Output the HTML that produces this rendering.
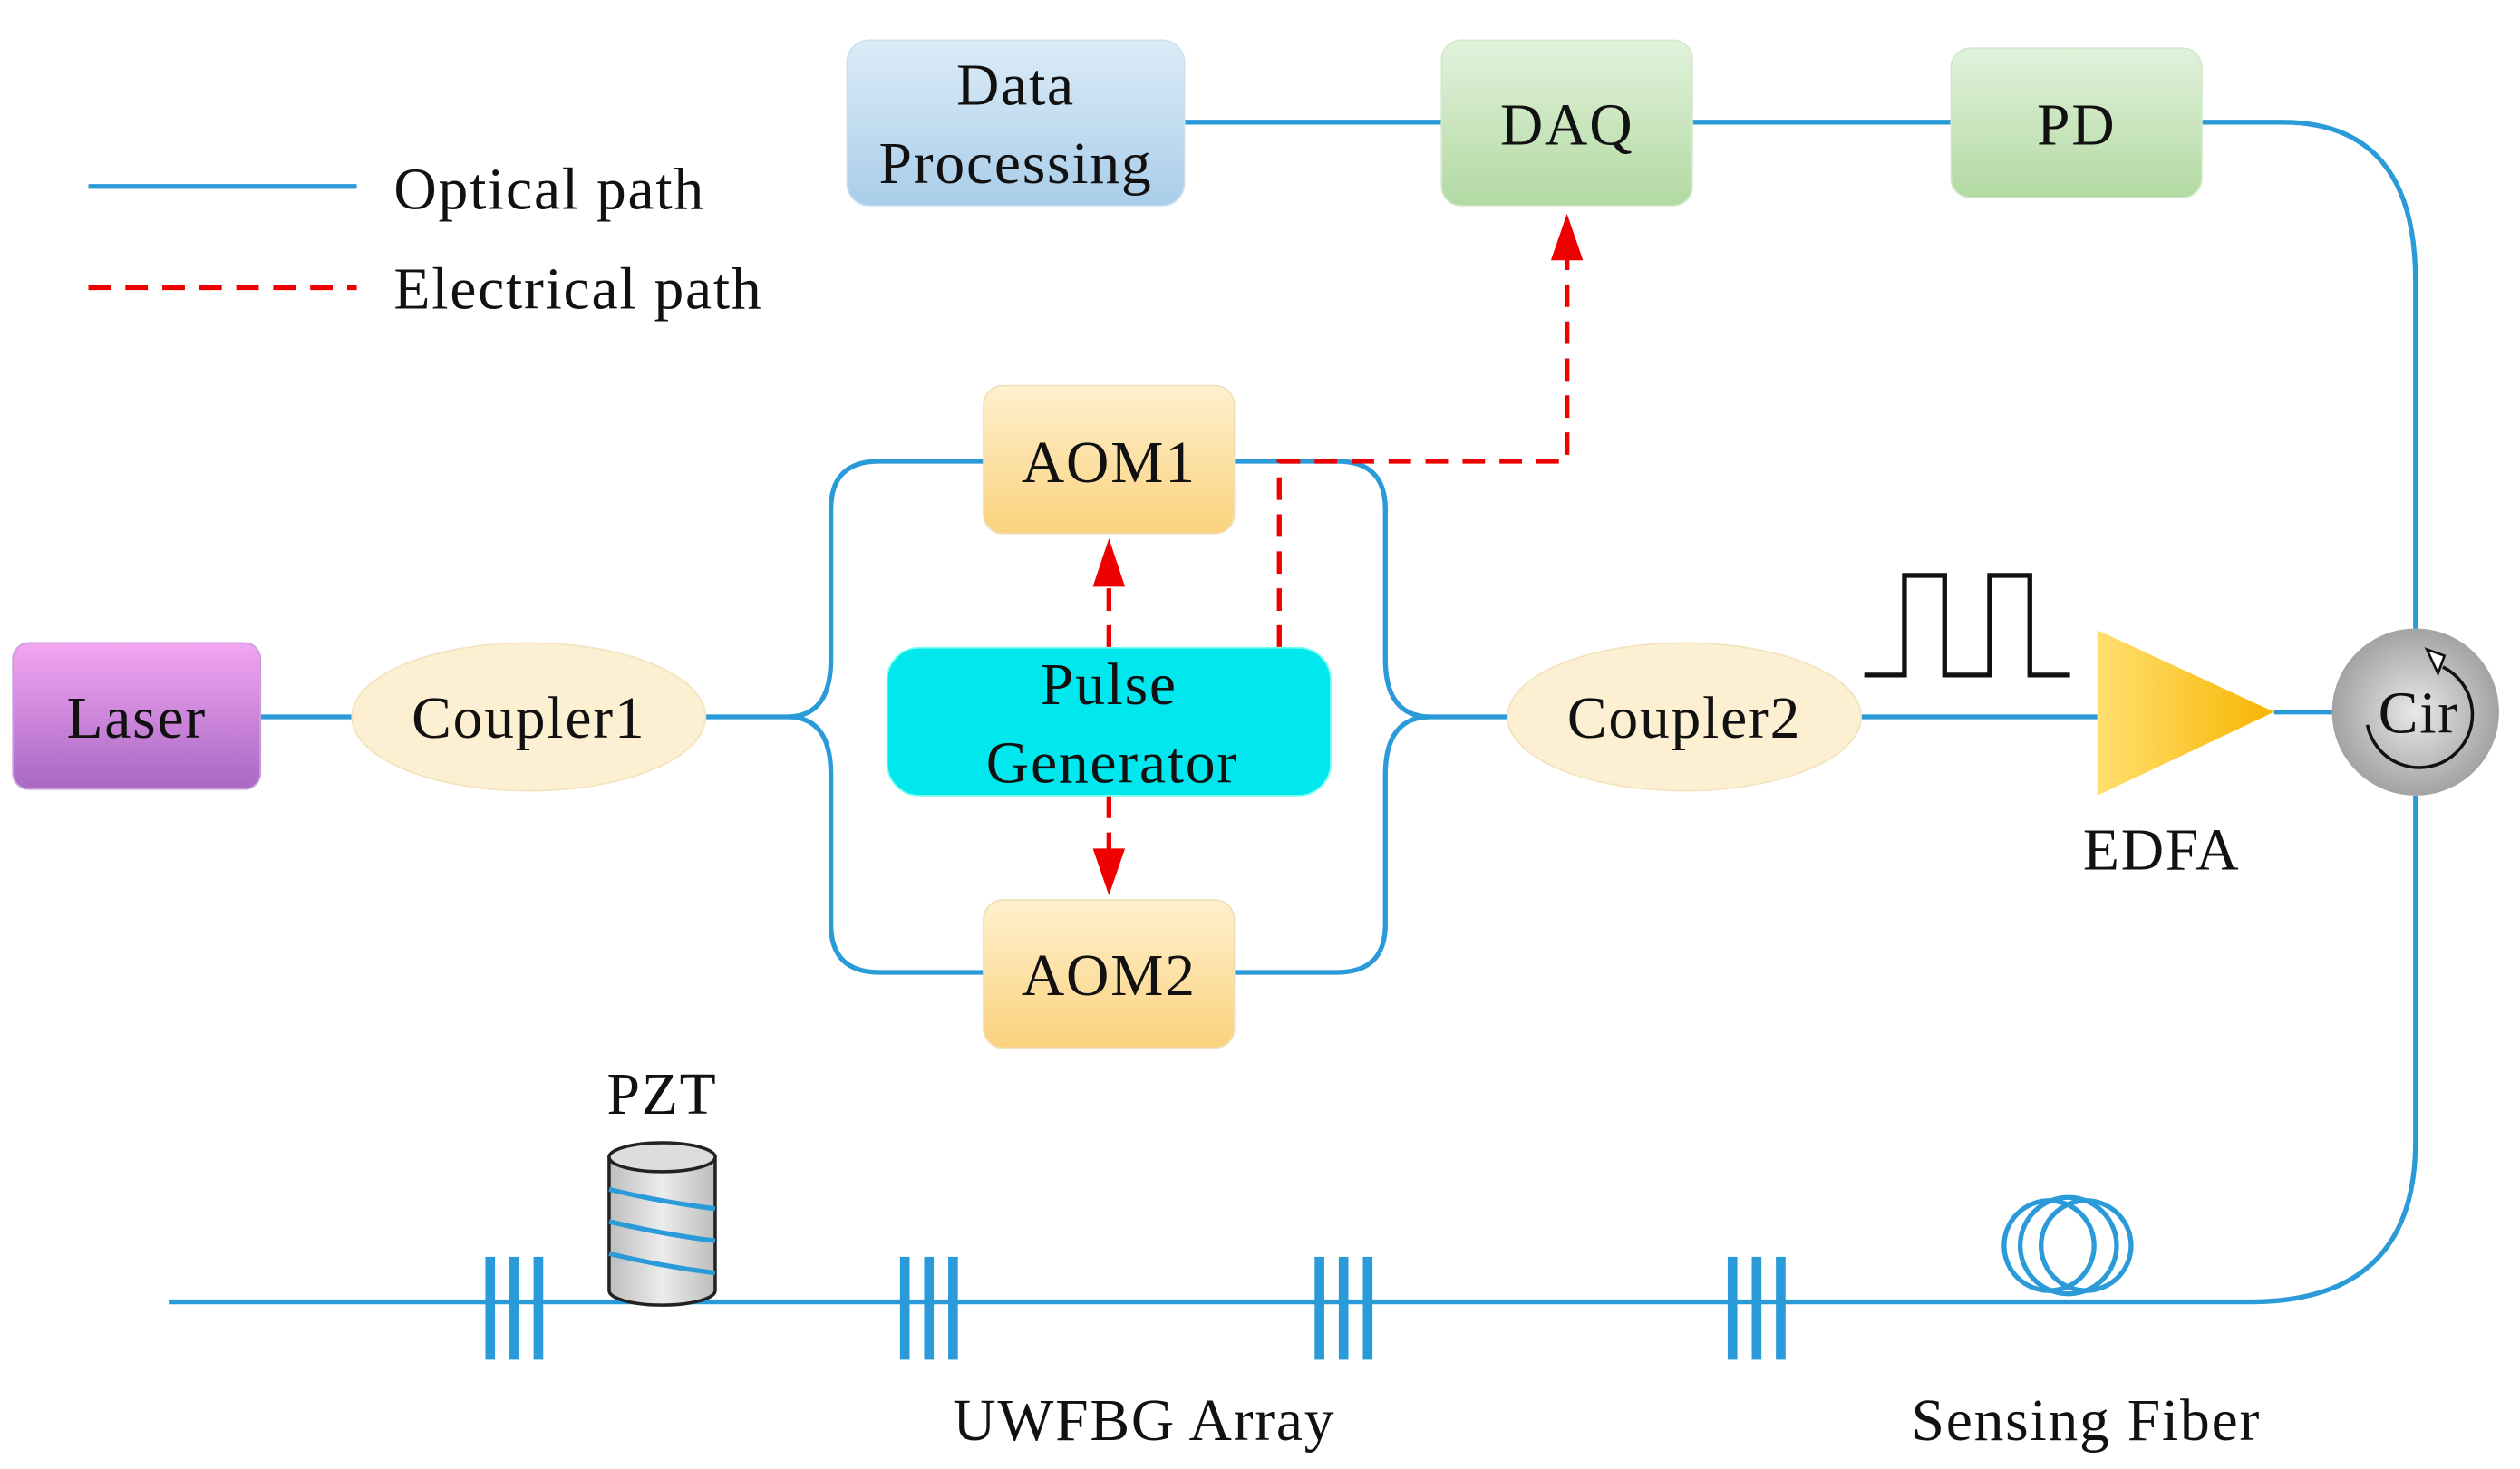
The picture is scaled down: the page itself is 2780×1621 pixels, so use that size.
<!DOCTYPE html>
<html><head><meta charset="utf-8"><style>html,body{margin:0;padding:0;background:#fff}svg{display:block}text{font-family:"Liberation Serif",serif;letter-spacing:1px}</style></head>
<body>
<svg width="2780" height="1621" viewBox="0 0 1568 914" preserveAspectRatio="none" xmlns="http://www.w3.org/2000/svg" font-size="37" fill="#111">
<defs>
<linearGradient id="gb" x1="0" y1="0" x2="0" y2="1"><stop offset="0" stop-color="#dcecf8"/><stop offset="1" stop-color="#a9cde9"/></linearGradient>
<linearGradient id="gg" x1="0" y1="0" x2="0" y2="1"><stop offset="0" stop-color="#e2f2dc"/><stop offset="1" stop-color="#b2d9a2"/></linearGradient>
<linearGradient id="go" x1="0" y1="0" x2="0" y2="1"><stop offset="0" stop-color="#fff0cf"/><stop offset="1" stop-color="#fad27c"/></linearGradient>
<linearGradient id="gp" x1="0" y1="0" x2="0" y2="1"><stop offset="0" stop-color="#f2a6f2"/><stop offset="1" stop-color="#a868c4"/></linearGradient>
<linearGradient id="gy" x1="0" y1="0" x2="1" y2="0"><stop offset="0" stop-color="#ffe070"/><stop offset="1" stop-color="#f8b400"/></linearGradient>
<radialGradient id="gc" cx="0.5" cy="0.5" r="0.55"><stop offset="0" stop-color="#e8e8e8"/><stop offset="1" stop-color="#9c9c9c"/></radialGradient>
<linearGradient id="gz" x1="0" y1="0" x2="1" y2="0"><stop offset="0" stop-color="#bdbdbd"/><stop offset="0.5" stop-color="#ececec"/><stop offset="1" stop-color="#bdbdbd"/></linearGradient>
</defs>
<g stroke="#2a9ad8" stroke-width="3" fill="none">
<line x1="55" y1="116" x2="222" y2="116"/>
<line x1="737" y1="76" x2="897" y2="76"/>
<line x1="1053" y1="76" x2="1214" y2="76"/>
<path d="M1370 76 H1420 Q1503 76 1503 175 V395"/>
<path d="M1503 495 V710 Q1503 810 1400 810 H105"/>
<line x1="162" y1="446" x2="219" y2="446"/>
<path d="M439 446 H490 Q517 446 517 410 V317 Q517 287 547 287 H612"/>
<path d="M490 446 Q517 446 517 482 V575 Q517 605 547 605 H612"/>
<path d="M768 287 H832 Q862 287 862 317 V410 Q862 446 890 446 H938"/>
<path d="M768 605 H832 Q862 605 862 575 V482 Q862 446 890 446"/>
<line x1="1158" y1="446" x2="1305" y2="446"/>
<line x1="1415" y1="443" x2="1452" y2="443"/>
<circle cx="1275" cy="775" r="28"/><circle cx="1287" cy="775" r="30"/><circle cx="1298" cy="775" r="28"/>
</g>
<g stroke="#e00" stroke-width="3" fill="none" stroke-dasharray="14,9">
<line x1="55" y1="179" x2="222" y2="179"/>
<line x1="690" y1="403" x2="690" y2="365"/>
<line x1="690" y1="495" x2="690" y2="530"/>
<path d="M796 403 V287 H975 V160"/>
</g>
<g fill="#e00">
<polygon points="690,335 680,365 700,365"/>
<polygon points="690,557 680,528 700,528"/>
<polygon points="975,133 965,162 985,162"/>
</g>
<text x="245" y="130">Optical path</text>
<text x="245" y="192">Electrical path</text>
<rect x="527" y="25" width="210" height="103" rx="14" fill="url(#gb)" stroke="#cfe0ee"/>
<text x="632" y="65" text-anchor="middle">Data</text>
<text x="632" y="114" text-anchor="middle">Processing</text>
<rect x="897" y="25" width="156" height="103" rx="12" fill="url(#gg)" stroke="#d4e8cc"/>
<text x="975" y="90" text-anchor="middle">DAQ</text>
<rect x="1214" y="30" width="156" height="93" rx="12" fill="url(#gg)" stroke="#d4e8cc"/>
<text x="1292" y="90" text-anchor="middle">PD</text>
<rect x="612" y="240" width="156" height="92" rx="12" fill="url(#go)" stroke="#f0e0b8"/>
<text x="690" y="300" text-anchor="middle">AOM1</text>
<rect x="612" y="560" width="156" height="92" rx="12" fill="url(#go)" stroke="#f0e0b8"/>
<text x="690" y="619" text-anchor="middle">AOM2</text>
<rect x="552" y="403" width="276" height="92" rx="20" fill="#00e8ee" stroke="#7fe"/>
<text x="690" y="438" text-anchor="middle">Pulse</text>
<text x="692" y="487" text-anchor="middle">Generator</text>
<rect x="8" y="400" width="154" height="91" rx="10" fill="url(#gp)" stroke="#c9a0d8"/>
<text x="85" y="459" text-anchor="middle">Laser</text>
<ellipse cx="329" cy="446" rx="110" ry="46" fill="#fdf0d2" stroke="#f3e3c0"/>
<text x="329" y="459" text-anchor="middle">Coupler1</text>
<ellipse cx="1048" cy="446" rx="110" ry="46" fill="#fdf0d2" stroke="#f3e3c0"/>
<text x="1048" y="459" text-anchor="middle">Coupler2</text>
<polyline points="1160,420 1185,420 1185,358 1210,358 1210,420 1238,420 1238,358 1263,358 1263,420 1288,420" fill="none" stroke="#111" stroke-width="3"/>
<polygon points="1305,392 1305,495 1415,443" fill="url(#gy)"/>
<text x="1345" y="541" text-anchor="middle">EDFA</text>
<circle cx="1503" cy="443" r="52" fill="url(#gc)"/>
<path d="M1473 451 A33 33 0 1 0 1520 415" fill="none" stroke="#111" stroke-width="2"/>
<polygon points="1510,404 1521,408 1517,419" fill="#fff" stroke="#111" stroke-width="1.5"/>
<text x="1505" y="456" text-anchor="middle">Cir</text>
<g fill="#2a9ad8">
<rect x="302" y="782" width="6" height="64"/><rect x="317" y="782" width="6" height="64"/><rect x="332" y="782" width="6" height="64"/>
<rect x="560" y="782" width="6" height="64"/><rect x="575" y="782" width="6" height="64"/><rect x="590" y="782" width="6" height="64"/>
<rect x="818" y="782" width="6" height="64"/><rect x="833" y="782" width="6" height="64"/><rect x="848" y="782" width="6" height="64"/>
<rect x="1075" y="782" width="6" height="64"/><rect x="1090" y="782" width="6" height="64"/><rect x="1105" y="782" width="6" height="64"/>
</g>
<path d="M379 720 V803 A33 9 0 0 0 445 803 V720 Z" fill="url(#gz)" stroke="#222" stroke-width="2"/>
<ellipse cx="412" cy="720" rx="33" ry="9" fill="#ddd" stroke="#222" stroke-width="2"/>
<g stroke="#2a9ad8" stroke-width="3" fill="none">
<path d="M379 740 Q412 748 445 752"/><path d="M379 760 Q412 768 445 772"/><path d="M379 780 Q412 788 445 792"/>
</g>
<text x="412" y="693" text-anchor="middle">PZT</text>
<text x="712" y="896" text-anchor="middle">UWFBG Array</text>
<text x="1298" y="896" text-anchor="middle">Sensing Fiber</text>
</svg>
</body></html>
